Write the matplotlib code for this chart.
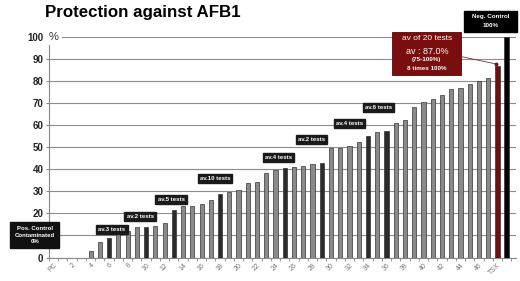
import matplotlib
matplotlib.use('Agg')
import matplotlib.pyplot as plt
from matplotlib.patches import Rectangle

plt.rcParams['font.family'] = ['Liberation Sans', 'DejaVu Sans']

# bar heights (% protection), one per position: PC, 1..47, TSX, Neg. control
values = [0, 0, 0, 0, 3, 7, 9, 12, 12, 13.7,
          13.7, 14.3, 15.8, 21.6, 23.4, 23.4, 24.3, 26.1, 28.9, 29.8,
          30.4, 33.7, 34.3, 38.3, 39.5, 40.8, 41, 41.7, 42.6, 42.8,
          49.6, 49.6, 50.5, 52.5, 54.9, 56.7, 57.4, 60.8, 62.3, 68.1,
          70.7, 71.7, 73.7, 76.4, 76.9, 78.6, 80.2, 81.6, 87.0, 100]
dark_bars = [6, 10, 13, 18, 25, 29, 34, 36]
tsx_index = 48
neg_index = 49
tick_labels = ['PC'] + [str(i) for i in range(2, 47, 2)] + ['TSX']
# the "10" label is hidden behind the Pos. Control box in the original
y_labels = ['0', '', '20', '30', '40', '50', '60', '70', '80', '90', '100']

# group labels: (text, x, y)
group_labels = [
    ('av.3 tests', 6.3, 12.7),
    ('av.2 tests', 9.35, 18.7),
    ('av.5 tests', 12.7, 26.4),
    ('av.10 tests', 17.45, 35.7),
    ('av.4 tests', 24.3, 45.2),
    ('av.2 tests', 27.85, 53.4),
    ('av.4 tests', 32.0, 60.7),
    ('av.6 tests', 35.1, 68.0),
]

fig = plt.figure(figsize=(5.2, 2.81), dpi=100)
ax = fig.add_axes([49 / 520, 23.5 / 281, 467 / 520, 220.5 / 281])

x = list(range(len(values)))
colors = []
widths = []
for i in x:
    if i == neg_index:
        colors.append('#000000')
        widths.append(0.5)
    elif i == tsx_index:
        colors.append('#6e1010')
        widths.append(0.5)
    elif i in dark_bars:
        colors.append('#2b2b2b')
        widths.append(0.45)
    else:
        colors.append('#8a8a8a')
        widths.append(0.45)

ax.bar(x, values, width=widths, color=colors, edgecolor='#333333',
       linewidth=0.5, zorder=3)

ax.set_xlim(-0.45, 50.0)
ax.set_ylim(0, 100)
ax.set_yticks(range(0, 101, 10))
ax.set_yticklabels(y_labels, fontsize=7, fontweight='bold', color='#222222')
ax.set_xticks(range(0, 49, 2))
ax.set_xticklabels(tick_labels, rotation=45, ha='right', va='top',
                   rotation_mode='anchor', fontsize=5, color='#777777')
ax.set_xticks([i + 0.5 for i in range(-1, 50)], minor=True)
ax.tick_params(axis='x', which='major', length=0, pad=3)
ax.tick_params(axis='x', which='minor', length=2, color='#888888')
ax.tick_params(axis='y', length=2, color='#888888', pad=2)

ax.grid(axis='y', color='#8c8c8c', linewidth=0.8, zorder=1)
ax.set_axisbelow(True)
for s in ['top', 'right']:
    ax.spines[s].set_visible(False)
ax.spines['left'].set_color('#888888')
ax.spines['bottom'].set_color('#888888')

ax.text(-0.05, 100, '%', fontsize=8, color='#333333', ha='center', va='center',
        bbox=dict(fc='white', ec='none', pad=2.5), zorder=4)

fig.text(45 / 520, 1 - 13 / 281, 'Protection against AFB1', fontsize=12.2,
         fontweight='bold', ha='left', va='center')

box = dict(boxstyle='square,pad=0.35', fc='#1a1a1a', ec='#1a1a1a')
for txt, bx, by in group_labels:
    ax.text(bx, by, txt, fontsize=4.3, fontweight='bold', color='white',
            ha='center', va='center', bbox=box, zorder=5)

ax.text(-2.05, 10.2, 'Pos. Control\nContaminated\n0%', fontsize=4.3,
        fontweight='bold', color='white', ha='center', va='center',
        linespacing=1.3, zorder=5, clip_on=False,
        bbox=dict(boxstyle='square,pad=0.75', fc='#111111', ec='#111111'))

# red summary box for TSX
ax.add_patch(Rectangle((36.63, 82.9), 7.46, 19.3, fc='#7a0d0d', ec='#5a0505',
                       lw=0.6, zorder=5, clip_on=False))
ax.text(40.36, 99.3, 'av of 20 tests', fontsize=6, color='white',
        ha='center', va='center', zorder=6)
ax.text(40.36, 93.5, 'av : 87.0%', fontsize=6.5, color='white',
        ha='center', va='center', zorder=6)
ax.text(40.36, 89.8, '(75-100%)', fontsize=4.5, color='white',
        fontweight='bold', ha='center', va='center', zorder=6)
ax.text(40.36, 85.8, '8 times 100%', fontsize=4.5, color='white',
        fontweight='bold', ha='center', va='center', zorder=6)
ax.plot([44.09, tsx_index - 0.2], [91.1, values[tsx_index] + 0.8],
        color='#7a3030', lw=0.6, zorder=6)
ax.plot([tsx_index - 0.2], [values[tsx_index] + 0.8], 'o', ms=1.8,
        color='#7a0d0d', zorder=6)

# negative control box
ax.add_patch(Rectangle((44.35, 102.2), 5.8, 9.4, fc='#000000', ec='#000000',
                       zorder=5, clip_on=False))
ax.text(47.25, 109.2, 'Neg. Control', fontsize=4.5, fontweight='bold',
        color='white', ha='center', va='center', zorder=6, clip_on=False)
ax.text(47.25, 105.2, '100%', fontsize=4.5, fontweight='bold',
        color='white', ha='center', va='center', zorder=6, clip_on=False)

fig.savefig('out.png', dpi=100)
